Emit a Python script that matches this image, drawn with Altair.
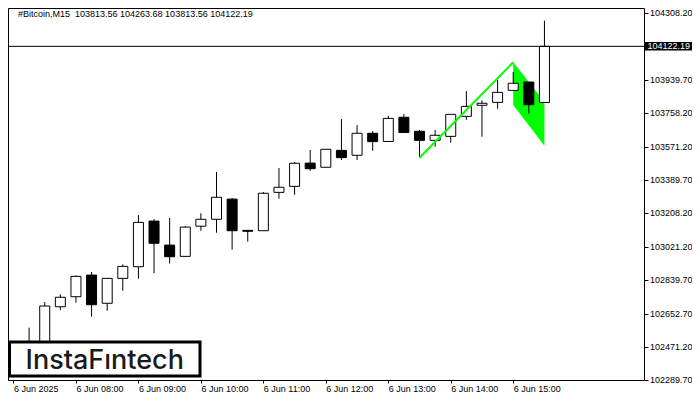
import json
import altair as alt
import pandas as pd

# ---------------- data ----------------
symbol = "#Bitcoin,M15"
opens = [102380, 102385.95, 102490, 102690, 102745, 102864, 102709, 102846, 102910,
         103161, 103029, 102967, 103133, 103171, 103282, 103110, 103108, 103319,
         103352, 103480, 103457, 103550, 103523, 103644, 103599, 103732, 103655,
         103605, 103627, 103737, 103798, 103814, 103880, 103926, 103813.56]
highs = [102460, 102574.6, 102716, 102758, 102863, 102881, 102848, 102923, 103194,
         103172, 103178, 103134, 103204, 103431, 103288, 103112, 103321, 103453,
         103486, 103552, 103556, 103722, 103689, 103656, 103739, 103750, 103662,
         103662, 103748, 103876, 103825, 103937, 103981, 103926, 104263.68]
lows = [102310, 102330.95, 102452, 102672, 102712, 102635, 102668, 102778, 102844,
        102874, 102928, 102966, 103108, 103097, 103004, 103048, 103108, 103284,
        103306, 103438, 103457, 103497, 103497, 103548, 103599, 103648, 103510,
        103570, 103592, 103718, 103625, 103779, 103880, 103752, 103813.56]
closes = [102420, 102490.45, 102694, 102742, 102857, 102701, 102846, 102912, 103154,
          103039, 102965, 103128, 103171, 103292, 103108, 103105, 103314, 103347,
          103479, 103449, 103556, 103510, 103644, 103598, 103726, 103648, 103605,
          103633, 103748, 103792, 103809, 103869, 103919, 103801, 104122.19]

x_tick_index = [0, 4, 8, 12, 16, 20, 24, 28, 32]
x_tick_labels = ["6 Jun 2025", "6 Jun 08:00", "6 Jun 09:00", "6 Jun 10:00",
                 "6 Jun 11:00", "6 Jun 12:00", "6 Jun 13:00", "6 Jun 14:00",
                 "6 Jun 15:00"]
y_tick_values = [104308.20, 103939.70, 103758.20, 103571.20, 103389.70, 103208.20,
                 103021.20, 102839.70, 102652.70, 102471.20, 102289.70]

pole_index = [26, 32]
pole_price = [103509.6, 104034.3]
flag_index = [32, 34]
flag_top = [104034.3, 103817.6]
flag_bottom = [103799.5, 103575.6]

logo_text = "InstaF\u0131ntech"

# ---------------- layout ----------------
W, H = 636, 372
X_DOMAIN = [-0.0315, 40.055]
Y_DOMAIN = [102287.0, 104333.0]
FONT = "Liberation Sans"

n = len(opens)
candles = pd.DataFrame({"i": list(range(n)), "o": opens, "h": highs, "l": lows, "c": closes})
candles["fill"] = ["white" if c >= o else "black" for o, c in zip(opens, closes)]

flag_df = pd.DataFrame({"fi": flag_index, "ft": flag_top, "fb": flag_bottom})
pole_df = pd.DataFrame({"pi": pole_index, "pp": pole_price})
last_df = pd.DataFrame({"p": [closes[-1]], "t": [f"{closes[-1]:.2f}"]})

label_expr = json.dumps(x_tick_labels) + "[round(datum.value/4)]"

x_axis = alt.Axis(values=x_tick_index, labelExpr=label_expr, labelAlign="left",
                  labelBaseline="alphabetic", tickSize=3, labelPadding=8,
                  labelFlush=False, labelOverlap=False, domain=False, grid=False,
                  title=None, labelFont=FONT, labelFontSize=9, labelColor="black",
                  tickColor="black")
y_axis = alt.Axis(values=y_tick_values, format=".2f", orient="right", tickSize=4,
                  labelPadding=1.5, labelFlush=False, labelOverlap=False, domain=False,
                  grid=False, title=None, labelFont=FONT, labelFontSize=9,
                  labelColor="black", tickColor="black")
x_scale = alt.Scale(domain=X_DOMAIN, nice=False, zero=False)
y_scale = alt.Scale(domain=Y_DOMAIN, nice=False, zero=False)


def X(field):
    return alt.X(field, type="quantitative", scale=x_scale, axis=x_axis)


def Y(field):
    return alt.Y(field, type="quantitative", scale=y_scale, axis=y_axis)


flag = alt.Chart(flag_df).mark_area(color="#00FF00", opacity=1).encode(
    x=X("fi"), y=Y("ft"), y2="fb")

wicks = alt.Chart(candles).mark_rule(color="black", strokeWidth=1).encode(
    x=X("i"), y=Y("l"), y2="h")

bodies = alt.Chart(candles).mark_bar(size=10, stroke="black", strokeWidth=1).encode(
    x=X("i"), y=Y("o"), y2="c", fill=alt.Fill("fill:N", scale=None))

pole = alt.Chart(pole_df).mark_line(color="#00FF00", strokeWidth=2).encode(
    x=X("pi"), y=Y("pp"))

price_line = alt.Chart(last_df).mark_rule(color="black", strokeWidth=1).encode(y=Y("p"))

price_box = alt.Chart(last_df).mark_rule(color="black", strokeWidth=8.5).encode(
    y=Y("p"), x=alt.value(637), x2=alt.value(684))

price_text = alt.Chart(last_df).mark_text(
    align="left", baseline="middle", color="white", font=FONT, fontSize=9).encode(
    y=Y("p"), x=alt.value(639.5), text="t:N")

title_str = (f"{symbol}\u00a0 {opens[-1]:.2f} {highs[-1]:.2f} "
             f"{lows[-1]:.2f} {closes[-1]:.2f}")
title_df = pd.DataFrame({"t": [title_str]})
title_text = alt.Chart(title_df).mark_text(
    align="left", baseline="middle", color="black", font=FONT, fontSize=9).encode(
    x=alt.value(10), y=alt.value(5.5), text="t:N")

logo_df = pd.DataFrame({"t": [logo_text]})
logo_box = alt.Chart(logo_df).mark_rect(fill="white", stroke="black", strokeWidth=3).encode(
    x=alt.value(1.5), x2=alt.value(192), y=alt.value(334), y2=alt.value(368))
logo_label = alt.Chart(logo_df).mark_text(
    align="center", baseline="alphabetic", color="#1a1a1a", font="Inter",
    fontSize=27, fontWeight=500).encode(
    x=alt.value(96.75), y=alt.value(360.5), text="t:N")

chart = alt.layer(
    flag, wicks, bodies, pole, price_line, price_box, price_text,
    title_text, logo_box, logo_label
).properties(
    width=W, height=H,
    autosize=alt.AutoSizeParams(type="none"),
    padding={"left": 0, "top": 0, "right": 48, "bottom": 12},
    background="white",
).configure_view(stroke="black", strokeWidth=1)

chart.save("out.html", embed_options={"renderer": "svg", "actions": False})
